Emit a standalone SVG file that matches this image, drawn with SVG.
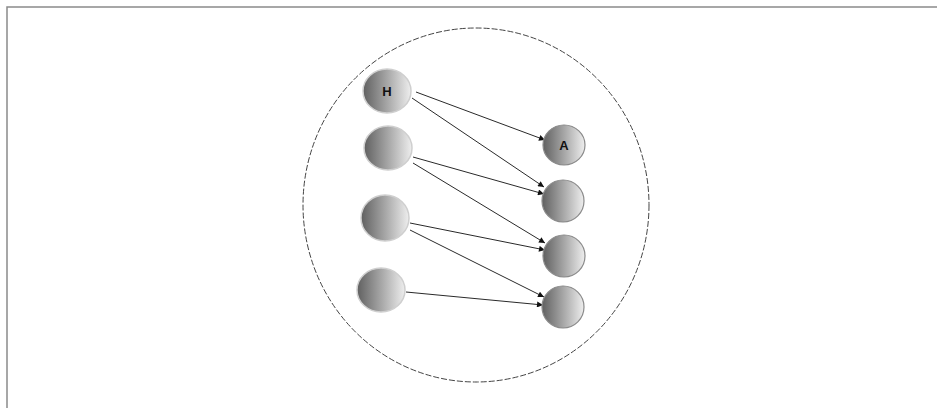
<svg xmlns="http://www.w3.org/2000/svg" width="937" height="408" viewBox="0 0 937 408">
  <style>
    .node { stroke: #cfcfcf; stroke-width: 1.5; }
    .rnode { stroke: #8a8a8a; stroke-width: 1.2; }
    .edge { stroke: #2a2a2a; stroke-width: 1; fill: none; marker-end: url(#arrow); }
    .lbl { font-family: "Liberation Sans", Arial, sans-serif; font-size: 13px; font-weight: bold; fill: #111; text-anchor: middle; dominant-baseline: central; }
  </style>
  <defs>
    <linearGradient id="g" x1="0" y1="0" x2="1" y2="0">
      <stop offset="0" stop-color="#606060"/>
      <stop offset="0.55" stop-color="#adadad"/>
      <stop offset="1" stop-color="#eeeeee"/>
    </linearGradient>
    <marker id="arrow" viewBox="0 0 10 10" refX="10" refY="5" markerWidth="7" markerHeight="6" orient="auto" markerUnits="userSpaceOnUse">
      <path d="M0,0 L10,5 L0,10 z" fill="#111"/>
    </marker>
  </defs>
  <rect x="0" y="0" width="937" height="408" fill="#ffffff"/>
  <rect x="7" y="7" width="940" height="410" fill="none" stroke="#8a8a8a" stroke-width="1.5"/>
  <ellipse id="boundary" cx="476" cy="205" rx="173" ry="177" fill="none" stroke="#444" stroke-width="1" stroke-dasharray="6,2"/>
  <g id="connectors">
    <line class="edge" x1="416" y1="92" x2="545" y2="140"/>
    <line class="edge" x1="412" y1="98" x2="544" y2="187"/>
    <line class="edge" x1="413" y1="157" x2="544" y2="194"/>
    <line class="edge" x1="413" y1="163" x2="545" y2="243"/>
    <line class="edge" x1="410" y1="223" x2="545" y2="250"/>
    <line class="edge" x1="410" y1="230" x2="544" y2="297"/>
    <line class="edge" x1="406" y1="292" x2="543" y2="305"/>
  </g>
  <g id="nodeH">
    <ellipse class="node" cx="387" cy="91" rx="24" ry="22" fill="url(#g)"/>
    <text class="lbl" x="387" y="91">H</text>
  </g>
  <g id="nodeL2">
    <ellipse class="node" cx="388" cy="148" rx="24" ry="22" fill="url(#g)"/>
  </g>
  <g id="nodeL3">
    <ellipse class="node" cx="385" cy="218" rx="24" ry="23" fill="url(#g)"/>
  </g>
  <g id="nodeL4">
    <ellipse class="node" cx="381" cy="290" rx="24" ry="22" fill="url(#g)"/>
  </g>
  <g id="nodeA">
    <ellipse class="rnode" cx="564" cy="145" rx="21" ry="20" fill="url(#g)"/>
    <text class="lbl" x="564" y="145">A</text>
  </g>
  <g id="nodeR2">
    <ellipse class="rnode" cx="563" cy="201" rx="21" ry="21" fill="url(#g)"/>
  </g>
  <g id="nodeR3">
    <ellipse class="rnode" cx="564" cy="256" rx="21" ry="21" fill="url(#g)"/>
  </g>
  <g id="nodeR4">
    <ellipse class="rnode" cx="563" cy="307" rx="21" ry="21" fill="url(#g)"/>
  </g>
</svg>
